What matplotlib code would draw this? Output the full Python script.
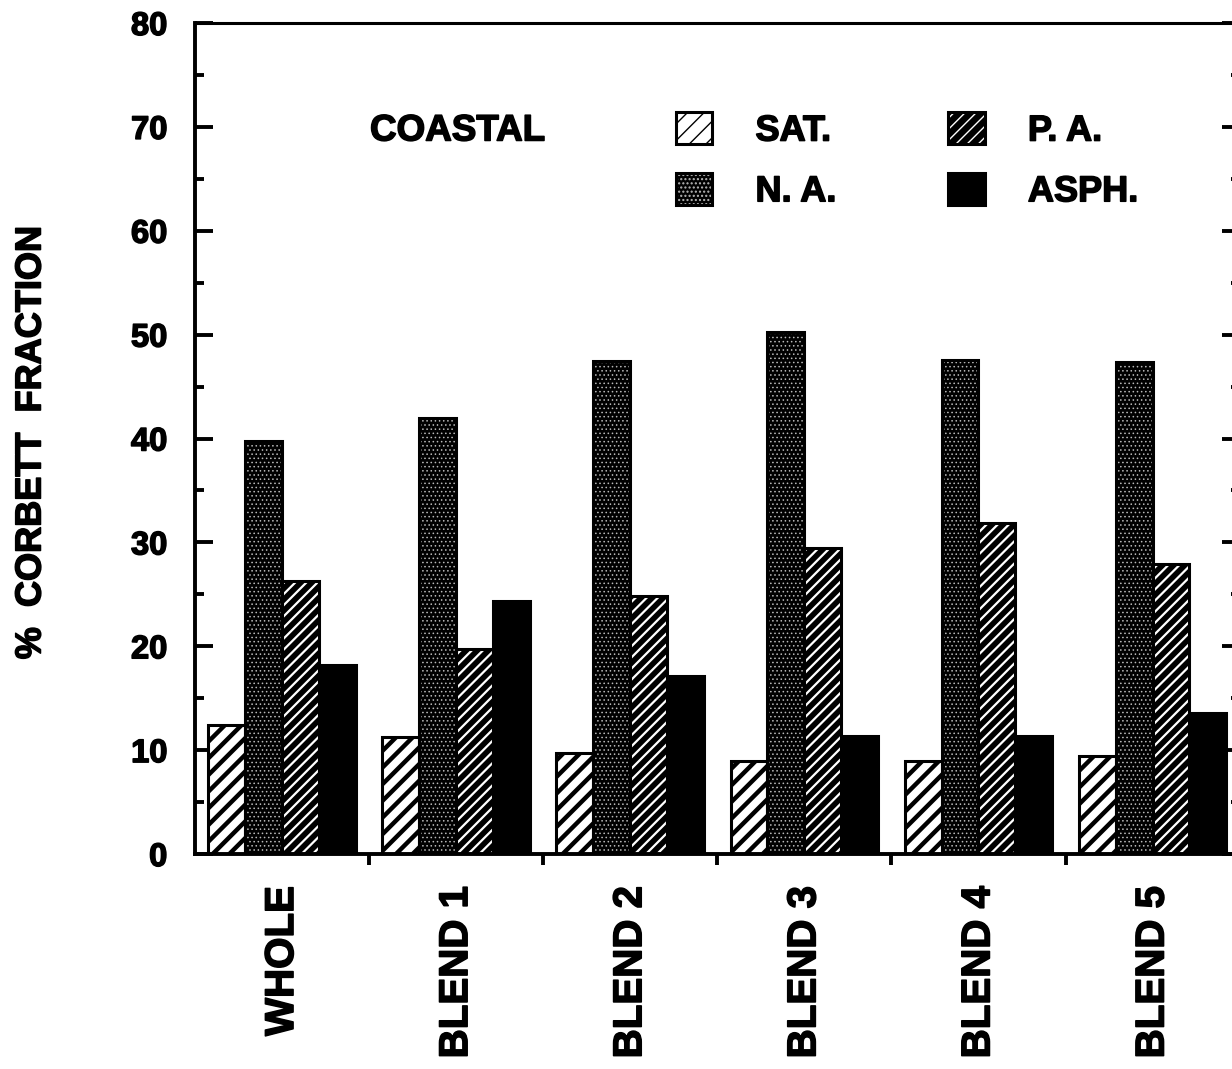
import numpy as np
import matplotlib
matplotlib.use("Agg")
import matplotlib.pyplot as plt
import matplotlib.patheffects as pe
from matplotlib.colors import to_rgba

# Corbett fractions (%)
samples = ["WHOLE", "BLEND 1", "BLEND 2", "BLEND 3", "BLEND 4", "BLEND 5"]
sat = [12.4, 11.3, 9.7, 9.0, 9.0, 9.4]
na = [39.8, 42.0, 47.5, 50.3, 47.6, 47.4]
pa = [26.3, 19.7, 24.8, 29.5, 31.9, 27.9]
asph = [18.2, 24.4, 17.1, 11.4, 11.4, 13.6]

plt.rcParams["font.family"] = ["Liberation Sans", "DejaVu Sans"]
plt.rcParams["font.weight"] = "bold"

# scanned print: fatten the glyphs a little
heavy = [pe.withStroke(linewidth=1.1, foreground="black")]

fig = plt.figure(figsize=(12.32, 10.69), dpi=100)
ax = fig.add_axes([0.1583, 0.2011, 0.8479, 0.7774])

x = np.arange(len(samples))
w = 0.212

# (label, values, face, hatch, hatch colour, hatch linewidth)
series = [
    ("SAT.", sat, "white", "//", "black", 3.2),
    ("N. A.", na, "black", "....", "#b8b8b8", 0.6),
    ("P. A.", pa, "black", "///", "white", 1.6),
    ("ASPH.", asph, "black", None, "black", 1.0),
]

handles = {}
for i, (lab, vals, face, hatch, hcol, hlw) in enumerate(series):
    with plt.rc_context({"hatch.linewidth": hlw}):
        bars = ax.bar(x - 2 * w + i * w, vals, width=w, align="edge",
                      facecolor=face, edgecolor="black", linewidth=2.2,
                      hatch=hatch, label=lab, zorder=2)
    for b in bars:
        b._hatch_color = to_rgba(hcol)
        if hasattr(b, "set_hatch_linewidth"):
            b.set_hatch_linewidth(hlw)
    handles[lab] = bars

ax.set_xlim(-0.5, 5.5)
ax.set_ylim(0, 80)

# y axis: inward ticks on both sides
ax.set_yticks(np.arange(0, 81, 10))
ax.set_yticks(np.arange(5, 80, 10), minor=True)
ax.tick_params(axis="y", which="both", direction="in", left=True, right=True,
               width=2.8, labelsize=23.5, pad=20)
ax.tick_params(axis="y", which="major", length=13)
ax.tick_params(axis="y", which="minor", length=6.5)

# x axis: labels at group centres, ticks between groups
ax.set_xticks(x)
ax.set_xticklabels(samples, rotation=90, fontsize=29, fontweight="bold")
ax.set_xticks(np.arange(0.5, 5.6, 1.0), minor=True)
ax.tick_params(axis="x", which="major", length=0, pad=23)
ax.tick_params(axis="x", which="minor", direction="out", length=8, width=2.8)

for side in ["left", "bottom"]:
    ax.spines[side].set_linewidth(2.8)
ax.spines["top"].set_linewidth(2.2)
ax.spines["right"].set_visible(False)

for t in ax.get_xticklabels() + ax.get_yticklabels():
    t.set_path_effects(heavy)

fig.text(31 / 1232, 1 - 443 / 1069, "%  CORBETT  FRACTION", rotation=90,
         ha="center", va="center", fontsize=26, fontweight="bold",
         path_effects=heavy)
fig.text(370 / 1232, 1 - 131 / 1069, "COASTAL", ha="left", va="center",
         fontsize=26.5, fontweight="bold", path_effects=heavy)

leg = fig.legend([handles["SAT."], handles["N. A."], handles["P. A."], handles["ASPH."]],
                 ["SAT.", "N. A.", "P. A.", "ASPH."],
                 ncol=2, loc="upper left", bbox_to_anchor=(658 / 1232, 1 - 94 / 1069),
                 frameon=False, borderpad=0, handlelength=1.0, handleheight=1.0,
                 handletextpad=1.2, columnspacing=3.1, labelspacing=0.67,
                 prop={"size": 26, "weight": "bold"})
for t in leg.get_texts():
    t.set_path_effects(heavy)

fig.savefig("out.png", dpi=100)
